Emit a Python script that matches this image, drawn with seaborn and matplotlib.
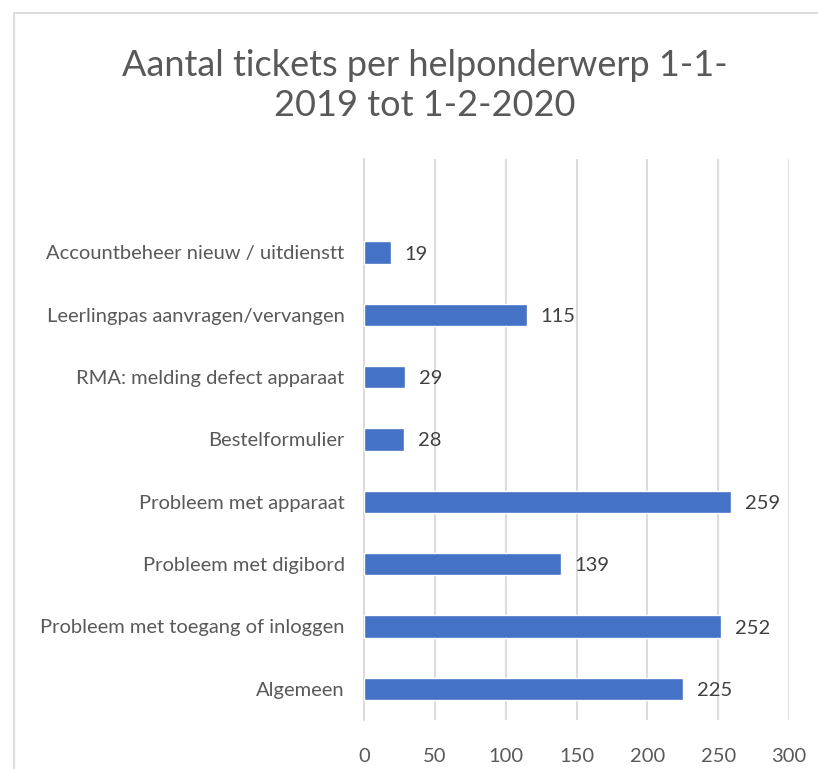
import matplotlib
matplotlib.use("Agg")
import matplotlib.pyplot as plt
import seaborn as sns
import pandas as pd
from matplotlib.patches import Rectangle

categories = [
    "Accountbeheer nieuw / uitdienstt",
    "Leerlingpas aanvragen/vervangen",
    "RMA: melding defect apparaat",
    "Bestelformulier",
    "Probleem met apparaat",
    "Probleem met digibord",
    "Probleem met toegang of inloggen",
    "Algemeen",
]
values = [19, 115, 29, 28, 259, 139, 252, 225]
xticks = [0, 50, 100, 150, 200, 250, 300]

df = pd.DataFrame({"onderwerp": categories, "aantal": values})

sns.set_theme(style="white")
plt.rcParams["font.family"] = ["Lato", "DejaVu Sans"]

fig = plt.figure(figsize=(8.18, 7.69), dpi=100)
ax = fig.add_axes([364/818, 1-720/769, (789-364)/818, (720-159)/769])

sns.barplot(data=df, x="aantal", y="onderwerp", orient="h", color="#4472C4",
            width=0.36, saturation=1, ax=ax, zorder=3)

ax.set_xlim(0, 300)
ax.set_ylim(7.5, -1.5)
ax.set_xticks(xticks)
ax.set_xticklabels([str(t) for t in xticks])
ax.xaxis.grid(True, color="#d9d9d9", linewidth=1.3, zorder=0)
ax.yaxis.grid(False)
for s in ["top", "right", "bottom"]:
    ax.spines[s].set_visible(False)
ax.spines["left"].set_color("#d9d9d9")
ax.spines["left"].set_linewidth(1.3)
ax.set_xlabel("")
ax.set_ylabel("")
ax.tick_params(axis="x", length=0, pad=20, labelsize=14.5, labelcolor="#595959")
ax.tick_params(axis="y", length=0, pad=14, labelsize=14.5, labelcolor="#595959")

for c in ax.containers:
    texts = ax.bar_label(c, labels=[str(v) for v in values], padding=10,
                         fontsize=14.5, color="#404040")
    for t in texts:
        t.set_va("center_baseline")

fig.text(425/818, 1-63/769, "Aantal tickets per helponderwerp 1-1-", ha="center", va="center_baseline",
         fontsize=26, color="#595959")
fig.text(425/818, 1-103/769, "2019 tot 1-2-2020", ha="center", va="center_baseline",
         fontsize=26, color="#595959")

fig.patches.append(Rectangle((14/818, -0.1), 1.2, 1-13/769+0.1, transform=fig.transFigure,
                             fill=False, edgecolor="#d9d9d9", linewidth=1.3, zorder=0))

fig.savefig("out.png", dpi=100, facecolor="white")
